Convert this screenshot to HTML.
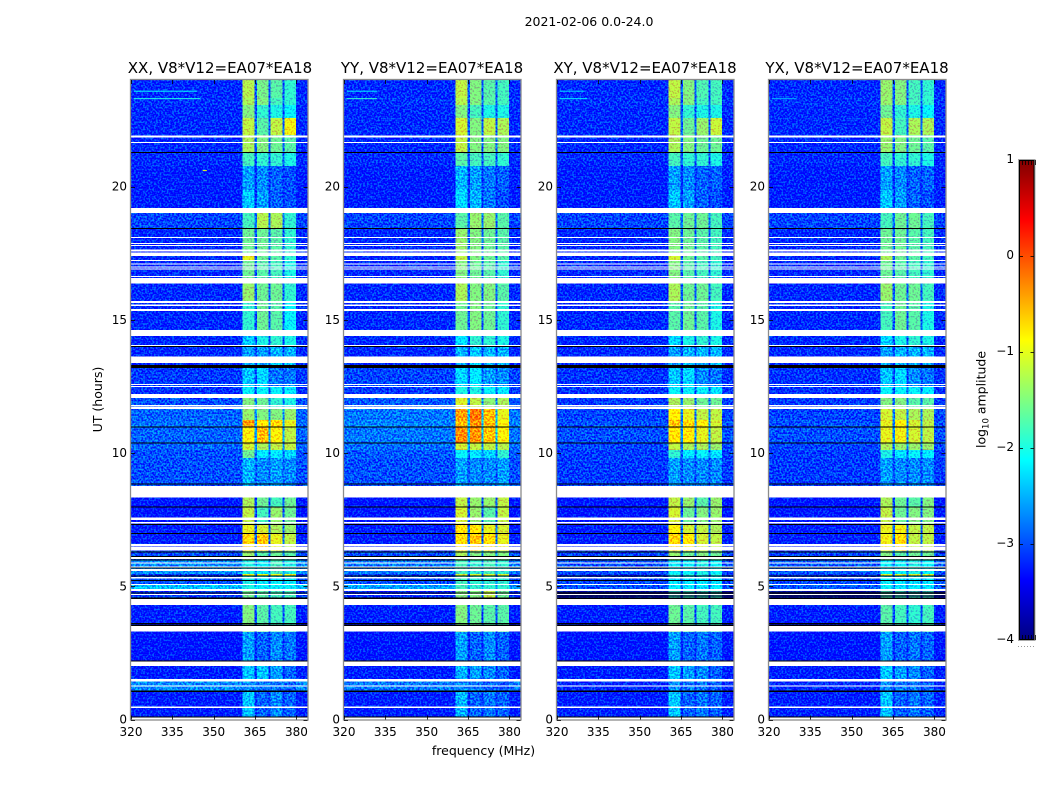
<!DOCTYPE html>
<html lang="en">
<head>
<meta charset="utf-8">
<title>2021-02-06 dynamic spectra</title>
<style>
html,body{margin:0;padding:0;background:#fff;width:1050px;height:800px;overflow:hidden}
svg{display:block}
text{font-family:"DejaVu Sans","Liberation Sans",sans-serif;fill:#000}
.tick{font-size:12px}
.title{font-size:15px}
.label{font-size:12.5px}
</style>
</head>
<body>
<svg id="chart" width="1050" height="800" viewBox="0 0 1050 800" xmlns="http://www.w3.org/2000/svg">
<defs>
<filter id="speckle" filterUnits="userSpaceOnUse" x="120" y="70" width="840" height="660" color-interpolation-filters="sRGB">
<feTurbulence type="fractalNoise" baseFrequency="0.55" numOctaves="1" seed="7" result="noise"/>
<feColorMatrix in="noise" type="matrix" values="0 0 0 0 .5  3.2 0 0 0 -1.1  0 0 0 0 .5  0 0 0 0 1" result="greenNoise"/>
<feComposite in="SourceGraphic" in2="greenNoise" operator="arithmetic" k1="0" k2="1" k3="0.6" k4="-0.3" result="noisy"/>
<feComposite in="noisy" in2="SourceGraphic" operator="in"/>
</filter>
<linearGradient id="jet-gradient" x1="0" y1="1" x2="0" y2="0"></linearGradient>
</defs>
<text x="589" y="26" text-anchor="middle" class="label">2021-02-06 0.0-24.0</text>
<text transform="translate(102,399.5) rotate(-90)" text-anchor="middle" class="label">UT (hours)</text>
<text x="483.5" y="755" text-anchor="middle" class="label">frequency (MHz)</text>
<g id="panels"></g>
<g id="colorbar">
<rect x="1019" y="160" width="15.5" height="480" fill="url(#jet-gradient)"/>
<rect x="1018.5" y="159.5" width="16.5" height="481" fill="none" stroke="#a8a8a8" stroke-width="1"/>
<rect x="1019.5" y="160.5" width="14.5" height="479" fill="none" stroke="#000" stroke-width="1"/>
<line x1="1018" y1="646.5" x2="1035" y2="646.5" stroke="#999" stroke-width="1" stroke-dasharray="1 2"/>
<text transform="translate(985.5,399.5) rotate(-90)" text-anchor="middle" class="label">log<tspan dy="3" style="font-size:8.5px">10</tspan><tspan dy="-3"> amplitude</tspan></text>
</g>
</svg>
<script>
const polarizations = ['XX', 'YY', 'XY', 'YX'];
const baselineLabel = ', V8*V12=EA07*EA18';
const freqTicks = [320, 335, 350, 365, 380];
const utTicks = [0, 5, 10, 15, 20];
const colorTicks = [1, 0, -1, -2, -3, -4];
const colorMinorTicks = [0, 0.2, 0.4, 0.6, 0.8, 1];

// Time-block edges in hours (descending), one more than the rows below.
const rowEdgesUT = [24, 23.32, 23.06, 22.57, 21.94, 21.30, 20.77, 19.87, 19.01, 18.45, 17.40, 17.25, 16.38, 15.63, 14.39, 14.02, 13.23, 12.48, 12.07, 11.69, 11.24, 10.98, 10.38, 10.11, 9.81, 8.35, 7.97, 7.30, 6.96, 6.32, 5.99, 5.46, 5.39, 5.06, 4.86, 4.52, 3.28, 2.20, 1.44, 1.07, 0];

// Frequency edges in MHz: background, band, notch, band, notch, band, notch, band, background.
const channelEdgesMHz = [320, 360.4, 364.8, 365.7, 369.8, 370.5, 374.9, 375.6, 379.8, 384];

// log10 amplitude per time block: [background, band1, band2, band3, band4]
const xxLevels = [
[-3.2,-1.25,-1.55,-1.7,-1.9],[-3.15,-1.3,-1.5,-1.8,-1.9],[-3.2,-1.5,-1.9,-2.0,-2.1],[-3.2,-1.2,-1.7,-1.2,-.95],
[-3.2,-1.3,-1.5,-1.6,-1.7],[-3.2,-1.8,-1.9,-1.9,-2.0],[-3.25,-2.6,-2.7,-2.9,-3.0],[-3.25,-2.4,-2.6,-2.9,-3.0],
[-3.05,-1.8,-1.25,-1.3,-1.9],[-3.2,-1.6,-1.6,-1.7,-1.9],[-3.2,-1.0,-1.6,-1.7,-1.9],[-3.2,-1.6,-1.7,-1.8,-2.0],
[-3.2,-1.4,-1.6,-1.6,-1.9],[-3.2,-1.9,-1.6,-1.7,-2.1],[-3.2,-2.4,-2.0,-1.9,-2.0],[-3.2,-2.6,-2.6,-2.5,-2.5],
[-3.1,-2.4,-2.3,-2.8,-2.8],[-3.15,-2.1,-2.1,-2.1,-2.2],[-3.0,-1.5,-1.6,-1.9,-2.0],[-2.9,-1.4,-1.5,-1.5,-1.4],
[-2.85,-.4,-.8,-.7,-1.0],[-2.9,-.9,-.55,-.9,-1.2],[-2.9,-1.1,-1.3,-1.2,-1.2],[-3.0,-1.6,-2.2,-2.2,-2.3],
[-3.0,-2.5,-2.7,-2.6,-2.7],[-3.3,-1.3,-1.6,-1.8,-1.6],[-3.3,-1.2,-1.8,-1.4,-1.6],[-3.25,-1.0,-1.1,-1.3,-1.4],
[-3.25,-.7,-.6,-1.0,-1.2],[-3.0,-1.4,-1.7,-1.6,-1.7],[-2.7,-2.0,-2.1,-1.8,-2.0],[-3.1,-1.0,-1.0,-1.0,-1.0],
[-3.0,-2.0,-2.1,-2.1,-2.1],[-2.45,-2.0,-2.1,-2.1,-2.1],[-3.1,-1.6,-1.7,-1.8,-1.8],[-3.25,-1.5,-1.7,-1.8,-1.8],[-3.3,-2.6,-2.9,-2.7,-2.8],
[-3.25,-2.4,-2.4,-2.6,-2.9],[-2.7,-2.7,-2.8,-2.8,-2.9],[-3.25,-2.4,-2.9,-2.7,-2.9]
];
const yyLevels = [
[-3.2,-1.2,-1.5,-1.7,-1.8],[-3.15,-1.25,-1.5,-1.7,-1.8],[-3.2,-1.5,-1.8,-2.0,-2.0],[-3.2,-1.1,-1.5,-1.2,-1.3],
[-3.2,-1.2,-1.5,-1.5,-1.5],[-3.2,-1.7,-1.8,-1.8,-1.9],[-3.25,-2.5,-2.6,-2.8,-2.9],[-3.25,-2.3,-2.5,-2.8,-3.0],
[-3.05,-1.7,-1.4,-1.4,-1.7],[-3.2,-1.4,-1.5,-1.6,-1.7],[-3.2,-1.2,-1.5,-1.6,-1.7],[-3.2,-1.5,-1.6,-1.7,-1.9],
[-3.2,-1.3,-1.5,-1.5,-1.7],[-3.2,-1.6,-1.5,-1.6,-1.9],[-3.2,-2.2,-1.9,-1.9,-2.0],[-3.2,-2.5,-2.4,-2.5,-2.5],
[-3.05,-2.3,-2.2,-2.6,-2.7],[-3.1,-2.0,-2.0,-2.1,-2.2],[-2.95,-1.05,-1.2,-1.45,-1.3],[-2.8,-.4,-.2,-.55,-1.0],
[-2.75,-.55,-.35,-.55,-.9],[-2.8,-.3,-.35,-.6,-.9],[-2.85,-1.1,-1.2,-1.2,-1.25],[-2.95,-2.1,-2.2,-2.3,-1.9],
[-3.0,-2.6,-2.7,-2.7,-2.6],[-3.3,-1.2,-1.4,-1.4,-1.2],[-3.3,-1.1,-1.4,-1.7,-1.2],[-3.25,-.8,-.8,-1.0,-1.1],
[-3.25,-.75,-.6,-.75,-1.0],[-3.0,-1.3,-1.5,-1.5,-1.5],[-2.8,-1.8,-1.9,-1.8,-1.9],[-3.1,-1.1,-1.1,-1.1,-1.1],
[-3.0,-1.8,-1.9,-1.9,-1.9],[-2.6,-1.8,-1.9,-1.9,-1.9],[-3.2,-1.5,-1.5,-1.2,-1.6],[-3.25,-1.5,-1.6,-1.7,-1.7],[-3.3,-2.6,-2.9,-2.7,-2.9],
[-3.25,-2.5,-2.6,-2.7,-2.9],[-2.8,-2.7,-2.8,-2.9,-3.0],[-3.25,-2.5,-2.9,-2.8,-2.9]
];
const xyLevels = [
[-3.2,-1.2,-1.5,-1.75,-1.8],[-3.15,-1.3,-1.5,-1.8,-1.8],[-3.2,-1.5,-1.9,-2.0,-2.0],[-3.2,-1.2,-1.6,-1.4,-1.15],
[-3.2,-1.3,-1.5,-1.6,-1.6],[-3.2,-1.8,-1.9,-1.9,-2.0],[-3.25,-2.6,-2.7,-2.9,-2.9],[-3.25,-2.4,-2.6,-2.9,-3.0],
[-3.05,-1.7,-1.6,-1.6,-1.8],[-3.2,-1.5,-1.6,-1.7,-1.8],[-3.2,-1.1,-1.6,-1.7,-1.8],[-3.2,-1.5,-1.7,-1.8,-1.9],
[-3.2,-1.3,-1.6,-1.6,-1.8],[-3.2,-1.7,-1.6,-1.7,-2.0],[-3.2,-2.3,-2.0,-1.9,-2.0],[-3.2,-2.6,-2.5,-2.5,-2.5],
[-3.15,-2.4,-2.3,-2.7,-2.8],[-3.15,-2.1,-2.1,-2.1,-2.2],[-3.1,-1.3,-1.4,-1.6,-1.6],[-3.05,-.85,-1.0,-1.2,-1.2],
[-3.0,-.6,-.7,-.9,-1.1],[-3.0,-.8,-.8,-1.0,-1.2],[-3.05,-1.2,-1.3,-1.3,-1.4],[-3.1,-1.9,-2.2,-2.1,-2.2],
[-3.1,-2.6,-2.7,-2.7,-2.7],[-3.3,-1.2,-1.4,-1.7,-1.4],[-3.3,-1.1,-1.6,-1.5,-1.4],[-3.25,-.9,-1.1,-1.2,-1.3],
[-3.25,-.7,-.8,-1.1,-1.2],[-3.05,-1.4,-1.6,-1.5,-1.6],[-3.0,-2.1,-2.1,-2.0,-2.1],[-3.15,-2.0,-2.0,-2.0,-2.0],
[-3.05,-2.2,-2.2,-2.2,-2.2],[-3.0,-2.2,-2.2,-2.2,-2.2],[-3.5,-1.9,-1.9,-1.9,-1.9],[-3.25,-1.6,-1.7,-1.8,-1.8],[-3.3,-2.6,-2.9,-2.8,-2.9],
[-3.25,-2.4,-2.6,-2.7,-2.9],[-3.2,-2.7,-2.8,-2.8,-2.9],[-3.25,-2.4,-2.9,-2.8,-2.9]
];
const yxLevels = [
[-3.2,-1.4,-1.5,-1.8,-1.9],[-3.15,-1.4,-1.5,-1.8,-1.9],[-3.2,-1.6,-1.9,-2.0,-2.1],[-3.2,-1.2,-1.8,-1.3,-1.3],
[-3.2,-1.4,-1.5,-1.6,-1.7],[-3.2,-1.8,-1.9,-1.9,-2.0],[-3.25,-2.6,-2.7,-2.9,-2.9],[-3.25,-2.4,-2.6,-2.9,-3.0],
[-3.05,-1.8,-1.6,-1.6,-1.8],[-3.2,-1.6,-1.6,-1.7,-1.8],[-3.2,-1.3,-1.6,-1.7,-1.8],[-3.2,-1.6,-1.7,-1.8,-1.9],
[-3.2,-1.4,-1.6,-1.6,-1.8],[-3.2,-1.8,-1.6,-1.7,-2.0],[-3.2,-2.3,-2.0,-1.9,-2.0],[-3.2,-2.6,-2.5,-2.5,-2.5],
[-3.15,-2.4,-2.3,-2.7,-2.8],[-3.15,-2.1,-2.1,-2.1,-2.2],[-3.1,-1.5,-1.5,-1.7,-1.7],[-3.05,-1.1,-1.2,-1.3,-1.3],
[-3.0,-1.0,-.9,-1.1,-1.2],[-3.0,-1.0,-.95,-1.1,-1.2],[-3.05,-1.3,-1.4,-1.4,-1.4],[-3.1,-2.0,-2.2,-2.1,-2.2],
[-3.1,-2.6,-2.7,-2.7,-2.7],[-3.3,-1.3,-1.6,-1.7,-1.5],[-3.3,-1.2,-1.6,-1.5,-1.5],[-3.25,-1.0,-.95,-1.2,-1.2],
[-3.25,-.95,-.75,-1.2,-1.2],[-3.05,-1.5,-1.7,-1.6,-1.6],[-2.95,-2.1,-2.1,-2.0,-2.1],[-3.15,-1.1,-1.1,-1.1,-1.1],
[-3.05,-2.1,-2.2,-2.2,-2.2],[-2.95,-2.1,-2.2,-2.2,-2.2],[-3.5,-1.8,-1.9,-1.9,-1.9],[-3.25,-1.7,-1.8,-1.9,-1.8],[-3.3,-2.6,-2.9,-2.8,-2.9],
[-3.25,-2.4,-2.6,-2.7,-2.9],[-3.2,-2.7,-2.8,-2.8,-2.9],[-3.25,-2.4,-2.9,-2.8,-2.9]
];
const panelLevels = [xxLevels, yyLevels, xyLevels, yxLevels];

// Flagged time ranges [end, start] in hours where no data exists.
const whiteGapsUT = [[21.91,21.84],[21.67,21.64],[19.19,19.01],[18.11,18.07],[17.88,17.85],[17.81,17.77],[17.63,17.56],[17.53,17.40],[17.25,17.21],[17.12,17.08],[17.01,16.97],[16.92,16.88],[16.64,16.60],[16.56,16.37],[15.70,15.64],[15.57,15.52],[15.41,15.34],[14.62,14.39],[14.05,14.02],[13.62,13.38],[12.59,12.55],[12.52,12.48],[12.22,12.07],[11.80,11.75],[11.73,11.66],[8.77,8.34],[7.59,7.49],[7.41,7.36],[6.58,6.49],[6.47,6.34],[6.12,6.02],[5.90,5.86],[5.75,5.71],[5.64,5.58],[5.34,5.30],[5.08,5.04],[4.90,4.82],[4.71,4.67],[4.52,4.30],[3.50,3.30],[2.18,2.01],[1.52,1.43],[1.28,1.23],[0.48,0.43],[0.07,0]];
const blackLinesUT = [[21.30,21.26],[18.45,18.40],[14.02,13.99],[13.30,13.20],[11.00,10.98],[10.40,10.38],[8.86,8.84],[8.00,7.96],[7.34,7.30],[7.00,6.96],[6.31,6.28],[6.14,6.10],[6.01,5.97],[5.71,5.67],[5.41,5.37],[5.24,5.20],[4.77,4.74],[4.57,4.53],[3.63,3.56],[3.55,3.52],[2.22,2.20],[1.08,1.04],[0.105,0.07]];
const xyDarkBandsUT = [[4.80,4.60]];
const yxDarkBandsUT = [[4.80,4.60]];
const xxDarkBandsUT = [];
const yyDarkBandsUT = [];
const panelDarkBands = [xxDarkBandsUT, yyDarkBandsUT, xyDarkBandsUT, yxDarkBandsUT];

// Narrow interference streaks: [UT, start MHz, end MHz, log10 amplitude]
const xxStreaks = [[23.58,321,344,-2.1],[23.30,321,345,-2.0],[20.6,346,347.5,-1.0]];
const yyStreaks = [[23.58,321,332,-2.2],[23.30,321,332,-1.9]];
const xyStreaks = [[23.58,321,330,-2.3],[23.30,321,331,-2.2]];
const yxStreaks = [[23.30,321,330,-2.5]];
const panelStreaks = [xxStreaks, yyStreaks, xyStreaks, yxStreaks];

const SVG_NS = 'http://www.w3.org/2000/svg';
const panelLefts = [131, 344, 557, 769];
const titleCenters = [220, 432, 645, 857];
const panelWidth = 176.5;
const plotTop = 80;
const plotBottom = 719.5;
const freqMin = 320;
const freqMax = 384;
const utMin = 0;
const utMax = 24;
const colorMin = -4;
const colorMax = 1;
const barLeft = 1019;
const barRight = 1034.5;
const barTop = 160;
const barBottom = 640;

function yScale(ut) {
  return plotBottom - (ut - utMin) / (utMax - utMin) * (plotBottom - plotTop);
}
function xScale(freq, left) {
  return left + (freq - freqMin) / (freqMax - freqMin) * panelWidth;
}
function barScale(v) {
  return barBottom - (v - colorMin) / (colorMax - colorMin) * (barBottom - barTop);
}
function jetRgb(t) {
  const c = Math.max(0, Math.min(1, t));
  const ramp = (x) => Math.max(0, Math.min(1, x));
  const r = ramp(Math.min(4 * c - 1.5, -4 * c + 4.5));
  const g = ramp(Math.min(4 * c - 0.5, -4 * c + 3.5));
  const b = ramp(Math.min(4 * c + 0.5, -4 * c + 2.5));
  return 'rgb(' + Math.round(r * 255) + ',' + Math.round(g * 255) + ',' + Math.round(b * 255) + ')';
}
function levelColor(v) {
  return jetRgb((v - colorMin) / (colorMax - colorMin));
}
function make(tag, attrs, parent) {
  const el = document.createElementNS(SVG_NS, tag);
  Object.keys(attrs).forEach(function (k) { el.setAttribute(k, attrs[k]); });
  parent.appendChild(el);
  return el;
}

const panelsRoot = document.getElementById('panels');

polarizations.forEach(function (pol, p) {
  const left = panelLefts[p];
  const right = left + panelWidth;
  const levels = panelLevels[p];
  const panel = make('g', {}, panelsRoot);
  
  

  const title = make('text', { x: titleCenters[p], y: 73, 'text-anchor': 'middle', class: 'title' }, panel);
  
  
  title.textContent = pol + baselineLabel;

  const heat = make('g', { filter: 'url(#speckle)', 'shape-rendering': 'crispEdges' }, panel);
  
  

  levels.forEach(function (row, r) {
    const y0 = yScale(rowEdgesUT[r]);
    const y1 = yScale(rowEdgesUT[r + 1]);
    const bandMean = (row[1] + row[2] + row[3] + row[4]) / 4;
    const notch = row[0] + 0.15 * (bandMean - row[0]);
    const cols = [row[0], row[1], notch, row[2], notch, row[3], notch, row[4], row[0]];
    cols.forEach(function (v, c) {
      const x0 = xScale(channelEdgesMHz[c], left);
      const x1 = xScale(channelEdgesMHz[c + 1], left);
      const cell = make('rect', { x: x0, y: y0, width: x1 - x0, height: y1 - y0, fill: levelColor(v) }, heat);
      
      
    });
  });

  panelStreaks[p].forEach(function (s) {
    const streak = make('rect', { x: xScale(s[1], left), y: yScale(s[0]) - 0.5, width: xScale(s[2], left) - xScale(s[1], left), height: 1, fill: levelColor(s[3]) }, panel);
    
    
  });

  const flags = make('g', { 'shape-rendering': 'crispEdges' }, panel);
  
  

  panelDarkBands[p].forEach(function (b) {
    const dark = make('rect', { x: left, y: yScale(b[0]), width: panelWidth, height: yScale(b[1]) - yScale(b[0]), fill: '#05051e', opacity: 0.65 }, flags);
    
    
  });
  whiteGapsUT.forEach(function (g) {
    const gap = make('rect', { x: left, y: yScale(g[0]), width: panelWidth, height: yScale(g[1]) - yScale(g[0]), fill: '#fff' }, flags);
    
    
  });
  blackLinesUT.forEach(function (g) {
    const line = make('rect', { x: left, y: yScale(g[0]), width: panelWidth, height: Math.max(1, yScale(g[1]) - yScale(g[0])), fill: '#000' }, flags);
    
    
  });

  const frame = make('rect', { x: left - 0.5, y: plotTop - 0.5, width: panelWidth + 1, height: plotBottom - plotTop + 1, fill: 'none', stroke: '#8c8c8c', 'stroke-width': 1.3 }, panel);
  
  

  freqTicks.forEach(function (f) {
    const x = Math.round(xScale(f, left)) + 0.5;
    const bottomTick = make('line', { x1: x, x2: x, y1: plotBottom, y2: plotBottom - 4, stroke: '#000', 'stroke-width': 0.8 }, panel);
    
    
    const topTick = make('line', { x1: x, x2: x, y1: plotTop, y2: plotTop + 4, stroke: '#000', 'stroke-width': 0.8 }, panel);
    
    
    const label = make('text', { x: xScale(f, left), y: 736, 'text-anchor': 'middle', class: 'tick' }, panel);
    
    
    label.textContent = f;
  });

  utTicks.forEach(function (u) {
    const y = Math.round(yScale(u)) + 0.5;
    const leftTick = make('line', { x1: left, x2: left + 4, y1: y, y2: y, stroke: '#000', 'stroke-width': 0.8 }, panel);
    
    
    const rightTick = make('line', { x1: right, x2: right - 4, y1: y, y2: y, stroke: '#000', 'stroke-width': 0.8 }, panel);
    
    
    const label = make('text', { x: left - 4, y: yScale(u) + 4, 'text-anchor': 'end', class: 'tick' }, panel);
    
    
    label.textContent = u;
  });
});

const jetGradient = document.getElementById('jet-gradient');
for (let i = 0; i <= 16; i++) {
  const stop = make('stop', { offset: (i / 16), 'stop-color': jetRgb(i / 16) }, jetGradient);
  
  
}

const colorbar = document.getElementById('colorbar');
colorTicks.forEach(function (v) {
  const y = Math.round(barScale(v)) + (v === colorMin ? -0.5 : 0.5);
  const leftTick = make('line', { x1: barLeft, x2: barLeft + 4, y1: y, y2: y, stroke: '#000', 'stroke-width': 0.8 }, colorbar);
  
  
  const rightTick = make('line', { x1: barRight, x2: barRight - 4, y1: y, y2: y, stroke: '#000', 'stroke-width': 0.8 }, colorbar);
  
  
  const label = make('text', { x: 1014, y: barScale(v) + 3, 'text-anchor': 'end', class: 'tick' }, colorbar);
  
  
  label.textContent = v < 0 ? '\u2212' + Math.abs(v) : String(v);
});
colorMinorTicks.forEach(function (m) {
  const x = Math.round(barLeft + m * (barRight - barLeft)) + 0.5;
  const topMinor = make('line', { x1: x, x2: x, y1: barTop, y2: barTop + 5, stroke: '#000', 'stroke-width': 0.8 }, colorbar);
  
  
  const bottomMinor = make('line', { x1: x, x2: x, y1: barBottom, y2: barBottom - 5, stroke: '#000', 'stroke-width': 0.8 }, colorbar);
  
  
});
</script>
</body>
</html>
